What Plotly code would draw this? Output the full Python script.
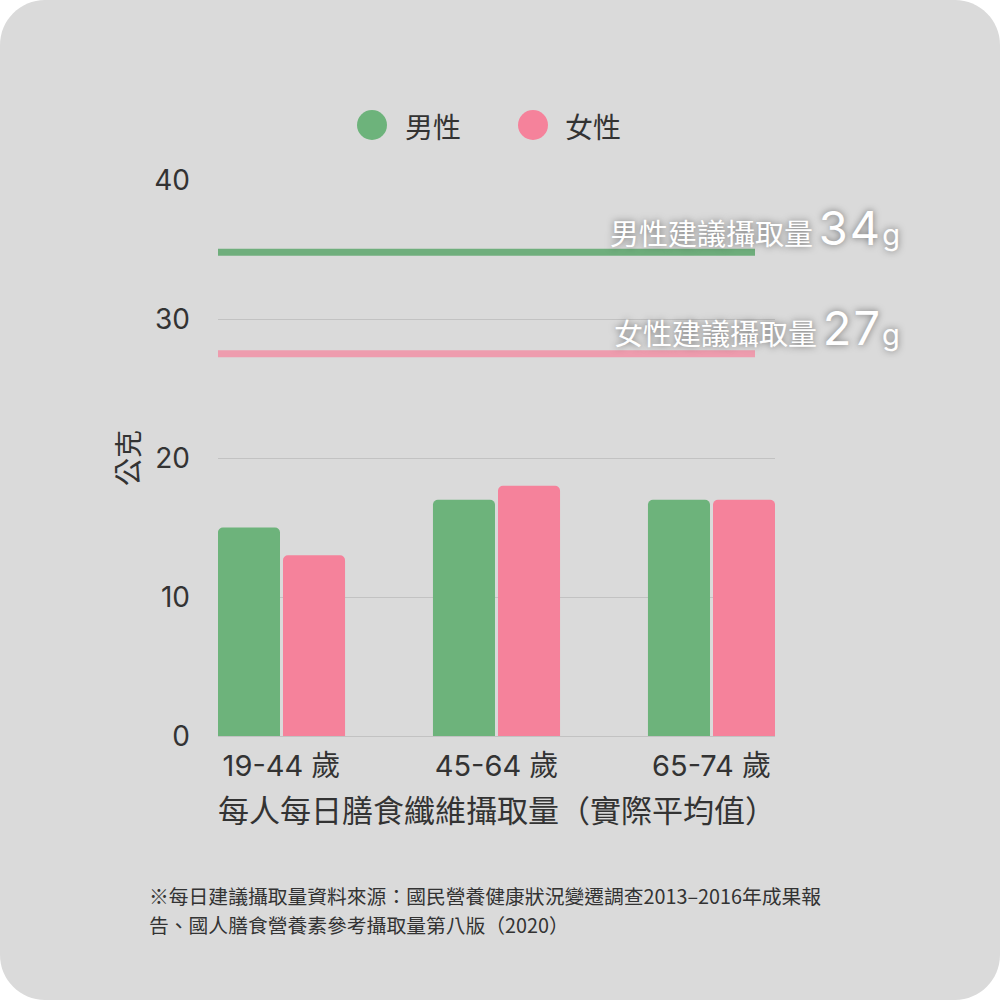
import plotly.graph_objects as go

# ---- data ----
age_groups = ["19-44 歲", "45-64 歲", "65-74 歲"]
male_values = [15, 17, 17]
female_values = [13, 18, 17]
series_names = ["男性", "女性"]
series_colors = ["#6db37b", "#f5829b"]
rec_line_values = [34.8, 27.5]          # where the recommendation lines sit
rec_labels = ["男性建議攝取量", "女性建議攝取量"]
rec_numbers = ["34", "27"]
rec_line_colors = ["#6fae7c", "#ee9cae"]
y_ticks = [0, 10, 20, 30, 40]
x_title = "每人每日膳食纖維攝取量（實際平均值）"
y_title = "公克"
footnote_lines = [
    "※每日建議攝取量資料來源：國民營養健康狀況變遷調查2013–2016年成果報",
    "告、國人膳食營養素參考攝取量第八版（2020）",
]

W, H = 1000, 1000
L, R, T, B = 218, 225, 180, 264
PW, PH = W - L - R, H - T - B


def px_x(px):
    return (px - L) / PW


def px_y(py):
    return (H - B - py) / PH


FONT = "Noto Sans CJK TC, Noto Sans, sans-serif"
NUMFONT = "Inter, Noto Sans CJK TC, sans-serif"
TXT = "#333333"

fig = go.Figure()
for name, vals, col in zip(series_names, [male_values, female_values], series_colors):
    fig.add_trace(go.Bar(
        x=age_groups, y=vals, name=name,
        marker=dict(color=col, line=dict(width=0), cornerradius=5),
        showlegend=False, hoverinfo="x+y",
    ))

shapes = []
# rounded panel background
r = 45
k = 0.552 * r
def P(px, py):
    return f"{px_x(px):.5f},{px_y(py):.5f}"
path = (
    f"M {P(r,0)} L {P(W-r,0)} C {P(W-r+k,0)} {P(W,r-k)} {P(W,r)} "
    f"L {P(W,H-r)} C {P(W,H-r+k)} {P(W-r+k,H)} {P(W-r,H)} "
    f"L {P(r,H)} C {P(r-k,H)} {P(0,H-r+k)} {P(0,H-r)} "
    f"L {P(0,r)} C {P(0,r-k)} {P(r-k,0)} {P(r,0)} Z"
)
shapes.append(dict(type="path", path=path, xref="paper", yref="paper",
                   fillcolor="#dadada", line=dict(width=0), layer="below"))

# recommendation lines
for v, col in zip(rec_line_values, rec_line_colors):
    shapes.append(dict(type="line", xref="paper", yref="y", x0=0, x1=px_x(755),
                       y0=v, y1=v, line=dict(color=col, width=7), layer="above"))

# legend circles
legend_px = [(372, 403), (533, 563)]
for (cx, tx), col in zip(legend_px, series_colors):
    shapes.append(dict(type="circle", xref="paper", yref="paper",
                       xsizemode="pixel", ysizemode="pixel",
                       xanchor=px_x(cx), yanchor=px_y(125),
                       x0=-15, x1=15, y0=-15, y1=15,
                       fillcolor=col, line=dict(width=0)))

annotations = []
for (cx, tx), name in zip(legend_px, series_names):
    annotations.append(dict(xref="paper", yref="paper", x=px_x(tx), y=px_y(126),
                            xanchor="left", yanchor="middle", showarrow=False,
                            text=name, font=dict(family=FONT, size=28, color=TXT)))

# recommendation labels
for lab, num, py in zip(rec_labels, rec_numbers, [227, 327]):
    annotations.append(dict(
        xref="paper", yref="paper", x=px_x(902), y=px_y(py),
        xanchor="right", yanchor="middle", showarrow=False,
        text=f"{lab}&#8201;<span style='font-size:47px;font-family:Inter;letter-spacing:2px'>{num}</span>"
             f"<span style='font-family:Inter'>g</span>",
        font=dict(family=FONT, size=29, color="white",
                  shadow="0px 0px 7px rgba(0,0,0,0.5)")))

# axis titles
annotations.append(dict(xref="paper", yref="paper", x=px_x(127), y=px_y(458),
                        xanchor="center", yanchor="middle", showarrow=False,
                        textangle=-90, text=y_title,
                        font=dict(family=FONT, size=28, color=TXT)))
annotations.append(dict(xref="paper", yref="paper", x=px_x(497), y=px_y(808),
                        xanchor="center", yanchor="middle", showarrow=False,
                        text=x_title, font=dict(family=FONT, size=31, color=TXT)))

# footnote
for line, py in zip(footnote_lines, [895, 925]):
    annotations.append(dict(xref="paper", yref="paper", x=px_x(147), y=px_y(py),
                            xanchor="left", yanchor="middle", showarrow=False,
                            text=line, font=dict(family=FONT, size=19.8, color=TXT)))

fig.update_layout(
    width=W, height=H,
    margin=dict(l=L, r=R, t=T, b=B, pad=0),
    paper_bgcolor="white", plot_bgcolor="rgba(0,0,0,0)",
    barmode="group", bargap=0.395, bargroupgap=0.046,
    shapes=shapes, annotations=annotations,
    showlegend=False,
    font=dict(family=FONT, color=TXT),
    xaxis=dict(type="category", range=[-0.2953, 2.2953], showgrid=False,
               showline=False, zeroline=False, ticks="",
               tickfont=dict(family=NUMFONT, size=29, color=TXT),
               ticklabelstandoff=10, fixedrange=True),
    yaxis=dict(range=[0, 40], tickvals=y_ticks, showgrid=True,
               gridcolor="#c2c2c2", gridwidth=1, zeroline=True,
               zerolinecolor="#c2c2c2", zerolinewidth=1, showline=False,
               ticks="", ticklabelstandoff=27,
               tickfont=dict(family=NUMFONT, size=28, color=TXT), fixedrange=True),
)

fig.write_html("out.html", config={"displayModeBar": False},
               post_script="document.body.style.margin='0';document.body.style.padding='0';")
